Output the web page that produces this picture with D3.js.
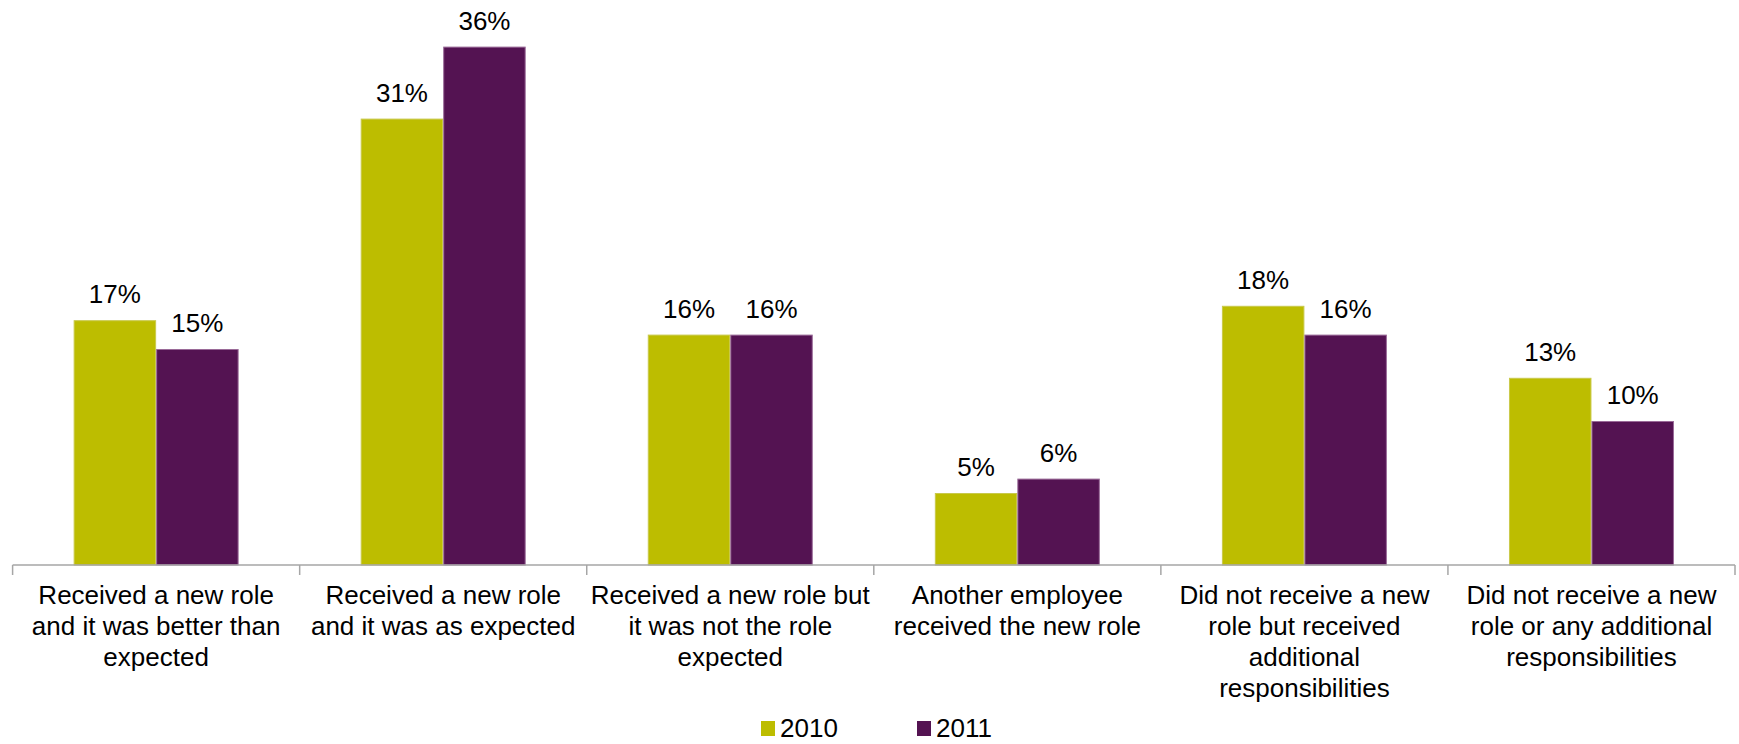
<!DOCTYPE html>
<html>
<head>
<meta charset="utf-8">
<script src="https://cdn.jsdelivr.net/npm/d3@7"></script>
<style>
  html, body { margin: 0; padding: 0; background: #fff; }
  svg { display: block; font-family: "Liberation Sans", Arial, sans-serif; }
</style>
</head>
<body>
<svg id="chart" width="1739" height="744"></svg>
<script>
// Category labels, one entry per line of the wrapped label
const categories = [
  ["Received a new role", "and it was better than", "expected"],
  ["Received a new role", "and it was as expected"],
  ["Received a new role but", "it was not the role", "expected"],
  ["Another employee", "received the new role"],
  ["Did not receive a new", "role but received", "additional", "responsibilities"],
  ["Did not receive a new", "role or any additional", "responsibilities"]
];
const seriesNames = ["2010", "2011"];
const values2010 = [17, 31, 16, 5, 18, 13];
const values2011 = [15, 36, 16, 6, 16, 10];
const seriesColors = ["#BDBD00", "#541352"];
const seriesEdges = ["#C9C94A", "#9A6A98"];

const plot = { left: 12.6, right: 1735, top: 46.6, bottom: 565 };

const svg = d3.select("#chart");

const x = d3.scaleBand()
  .domain(d3.range(categories.length))
  .range([plot.left, plot.right])
  .paddingInner(0)
  .paddingOuter(0);

const xInner = d3.scaleBand()
  .domain(seriesNames)
  .range([0, x.bandwidth()])
  .paddingOuter(0.74)
  .paddingInner(0);

const y = d3.scaleLinear()
  .domain([0, 36])
  .range([plot.bottom, plot.top]);

const seriesData = [values2010, values2011];

// Bars
const groups = svg.append("g")
  .selectAll("g")
  .data(categories.map((c, i) => i))
  .join("g")
  .attr("transform", i => `translate(${x(i)},0)`);

groups.selectAll("rect")
  .data(i => seriesNames.map((s, k) => ({ s, k, v: seriesData[k][i] })))
  .join("rect")
  .attr("x", d => xInner(d.s) + 0.5)
  .attr("y", d => y(d.v) + 0.5)
  .attr("width", xInner.bandwidth() - 1)
  .attr("height", d => plot.bottom - y(d.v) - 0.5)
  .attr("fill", d => seriesColors[d.k])
  .attr("stroke", d => seriesEdges[d.k])
  .attr("stroke-width", 1);

// Value labels
groups.selectAll("text.value")
  .data(i => seriesNames.map((s, k) => ({ s, k, v: seriesData[k][i] })))
  .join("text")
  .attr("class", "value")
  .attr("x", d => xInner(d.s) + xInner.bandwidth() / 2)
  .attr("y", d => y(d.v) - 17)
  .attr("text-anchor", "middle")
  .attr("font-size", 26)
  .attr("fill", "#000")
  .text(d => d.v + "%");

// Category axis with boundary ticks between groups
const axis = svg.append("g");
axis.append("line")
  .attr("x1", plot.left).attr("x2", plot.right)
  .attr("y1", plot.bottom).attr("y2", plot.bottom)
  .attr("stroke", "#A6A6A6").attr("stroke-width", 1.5);

const tickPositions = d3.range(categories.length + 1).map(i =>
  i < categories.length ? x(i) : x(categories.length - 1) + x.bandwidth());
axis.selectAll("line.tick")
  .data(tickPositions)
  .join("line")
  .attr("class", "tick")
  .attr("x1", d => d).attr("x2", d => d)
  .attr("y1", plot.bottom).attr("y2", plot.bottom + 10)
  .attr("stroke", "#A6A6A6").attr("stroke-width", 1.5);

// Wrapped category labels
const labels = axis.selectAll("text.cat")
  .data(categories)
  .join("text")
  .attr("class", "cat")
  .attr("text-anchor", "middle")
  .attr("font-size", 26)
  .attr("fill", "#000")
  .attr("transform", (d, i) => `translate(${x(i) + x.bandwidth() / 2},603.5)`);

labels.selectAll("tspan")
  .data(d => d)
  .join("tspan")
  .attr("x", 0)
  .attr("y", (d, j) => j * 31)
  .text(d => d);

// Legend
const legend = svg.append("g");
const legendX = [761, 917];
seriesNames.forEach((name, k) => {
  legend.append("rect")
    .attr("x", legendX[k]).attr("y", 721)
    .attr("width", 14).attr("height", 15)
    .attr("fill", seriesColors[k]);
  legend.append("text")
    .attr("x", legendX[k] + 19).attr("y", 737)
    .attr("font-size", 26)
    .attr("fill", "#000")
    .text(name);
});
</script>
</body>
</html>
